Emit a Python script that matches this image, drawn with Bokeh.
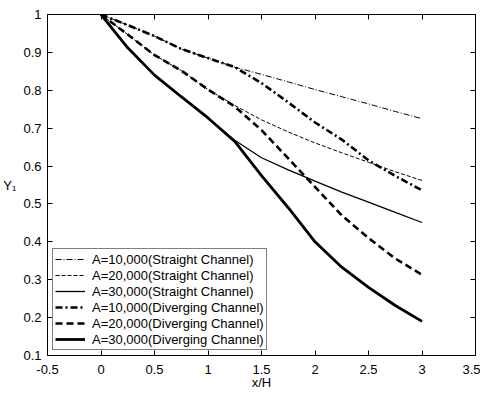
from bokeh.plotting import figure
from bokeh.models import LinearAxis, Legend, LegendItem, FixedTicker, Range1d
from bokeh.embed import file_html
from bokeh.resources import INLINE

# data
x_over_h = [0.0, 0.25, 0.5, 0.75, 1.0, 1.25, 1.5, 1.75, 2.0, 2.25, 2.5, 2.75, 3.0]
straight_10k = [1.0, 0.972, 0.943, 0.909, 0.885, 0.861, 0.842, 0.822, 0.802, 0.783, 0.764, 0.744, 0.725]
straight_20k = [1.0, 0.947, 0.893, 0.852, 0.802, 0.760, 0.722, 0.690, 0.661, 0.635, 0.610, 0.585, 0.562]
straight_30k = [1.0, 0.912, 0.840, 0.783, 0.727, 0.668, 0.622, 0.590, 0.560, 0.531, 0.505, 0.478, 0.451]
diverging_10k = [1.0, 0.972, 0.943, 0.909, 0.885, 0.861, 0.819, 0.768, 0.715, 0.670, 0.615, 0.574, 0.536]
diverging_20k = [1.0, 0.947, 0.893, 0.852, 0.802, 0.757, 0.695, 0.620, 0.545, 0.470, 0.410, 0.356, 0.313]
diverging_30k = [1.0, 0.912, 0.840, 0.783, 0.727, 0.665, 0.575, 0.490, 0.400, 0.333, 0.280, 0.232, 0.190]

labels = [
    "A=10,000(Straight Channel)",
    "A=20,000(Straight Channel)",
    "A=30,000(Straight Channel)",
    "A=10,000(Diverging Channel)",
    "A=20,000(Diverging Channel)",
    "A=30,000(Diverging Channel)",
]
x_ticks = [-0.5, 0, 0.5, 1, 1.5, 2, 2.5, 3, 3.5]
y_ticks = [0.1, 0.2, 0.3, 0.4, 0.5, 0.6, 0.7, 0.8, 0.9, 1.0]

FONT = "Liberation Sans"

p = figure(width=480, height=392, output_backend="svg", toolbar_location=None,
           x_range=Range1d(-0.5, 3.5), y_range=Range1d(0.1, 1.0),
           min_border_left=36, min_border_right=5, min_border_top=14, min_border_bottom=36)
p.grid.visible = False
p.outline_line_color = "black"
p.outline_line_width = 1
p.background_fill_color = "white"
p.border_fill_color = "white"

for ax in (p.xaxis[0], p.yaxis[0]):
    ax.major_tick_in = 5
    ax.major_tick_out = 0
    ax.minor_tick_in = 0
    ax.minor_tick_out = 0
    ax.axis_line_color = "black"
    ax.major_tick_line_color = "black"
    ax.major_label_text_font = FONT
    ax.major_label_text_font_size = "13px"
    ax.major_label_text_color = "black"
    ax.axis_label_text_font = FONT
    ax.axis_label_text_font_size = "13px"
    ax.axis_label_text_font_style = "normal"
    ax.axis_label_text_color = "black"

p.xaxis.ticker = FixedTicker(ticks=x_ticks)
p.yaxis.ticker = FixedTicker(ticks=y_ticks)
p.xaxis.major_label_overrides = {-0.5: "-0.5", 0: "0", 0.5: "0.5", 1: "1", 1.5: "1.5",
                                 2: "2", 2.5: "2.5", 3: "3", 3.5: "3.5"}
p.yaxis.major_label_overrides = {0.1: "0.1", 0.2: "0.2", 0.3: "0.3", 0.4: "0.4", 0.5: "0.5",
                                 0.6: "0.6", 0.7: "0.7", 0.8: "0.8", 0.9: "0.9", 1.0: "1"}
p.xaxis.major_label_standoff = 9
p.yaxis.major_label_standoff = 6
p.xaxis.axis_label = "x/H"
p.xaxis.axis_label_standoff = -2
p.yaxis.axis_label = "Y\u2081"
p.yaxis.axis_label_orientation = "horizontal"
p.yaxis.axis_label_standoff = 4

# tick marks on the top and right edges (no labels): use minor ticks only
for loc, tk in (("above", x_ticks), ("right", y_ticks)):
    a = LinearAxis(ticker=FixedTicker(ticks=[], minor_ticks=tk))
    a.major_tick_in = 0
    a.major_tick_out = 0
    a.minor_tick_in = 5
    a.minor_tick_out = 0
    a.minor_tick_line_color = "black"
    a.major_label_standoff = 0
    a.axis_line_color = "black"
    p.add_layout(a, loc)

r1 = p.line(x_over_h, straight_10k, line_color="black", line_width=1, line_dash="6 2 1 2")
r2 = p.line(x_over_h, straight_20k, line_color="black", line_width=1, line_dash="4 2")
r3 = p.line(x_over_h, straight_30k, line_color="black", line_width=1.3)
r4 = p.line(x_over_h, diverging_10k, line_color="black", line_width=2.6, line_dash="7 3 2 3")
r5 = p.line(x_over_h, diverging_20k, line_color="black", line_width=2.6, line_dash="7 4")
r6 = p.line(x_over_h, diverging_30k, line_color="black", line_width=2.8)

legend = Legend(items=[LegendItem(label=l, renderers=[r]) for l, r in
                       zip(labels, [r1, r2, r3, r4, r5, r6])],
                location="bottom_left", margin=5, padding=2, spacing=0,
                glyph_width=30, glyph_height=16, label_height=16, label_standoff=7,
                label_text_font=FONT, label_text_font_size="13px",
                label_text_color="black",
                border_line_color="black", border_line_width=1,
                background_fill_alpha=1.0)
p.add_layout(legend, "center")

open("out.html", "w").write(file_html(p, INLINE))
